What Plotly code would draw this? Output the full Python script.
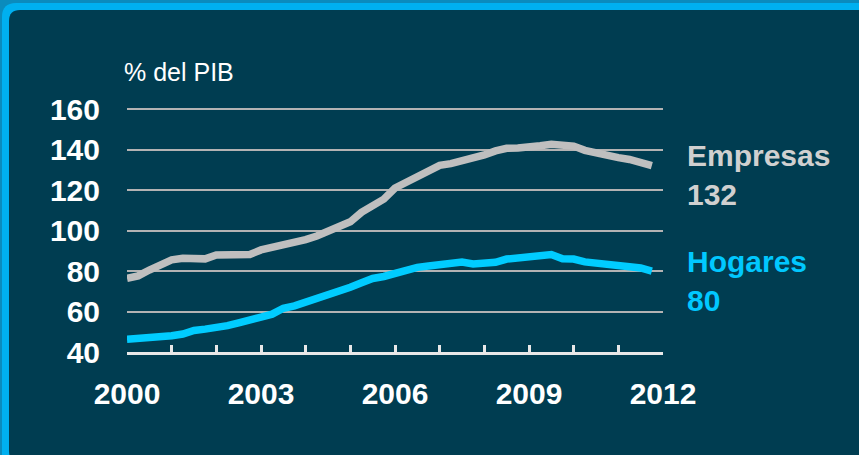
import plotly.graph_objects as go

# quarterly data, % of GDP
quarters = [y + q / 4 for y in range(2000, 2012) for q in range(4)]

empresas = [
    76.4, 77.6, 80.5, 83.5, 85.5, 86.3, 86.0, 86.0,
    87.9, 87.9, 88.0, 88.2, 90.4, 91.5, 93.3, 94.0,
    95.5, 97.3, 99.8, 101.3, 104.3, 109.0, 112.0, 115.5,
    121.0, 123.8, 127.6, 129.7, 132.2, 133.0, 134.3, 135.8,
    137.3, 139.3, 140.6, 140.8, 141.0, 141.9, 142.6, 142.3,
    141.7, 139.6, 138.2, 137.3, 136.0, 135.1, 133.7, 132.0,
]
hogares = [
    46.3, 46.5, 47.4, 47.6, 48.0, 48.9, 50.6, 51.3,
    51.9, 53.0, 54.4, 56.2, 57.2, 58.7, 61.6, 62.8,
    64.5, 66.2, 68.6, 70.2, 72.0, 74.2, 76.3, 77.3,
    78.9, 80.5, 81.8, 82.5, 83.0, 83.5, 84.4, 83.5,
    83.6, 84.3, 85.9, 86.6, 87.1, 87.1, 88.1, 86.0,
    85.9, 84.5, 84.1, 83.2, 82.8, 82.1, 81.5, 80.0,
]

year_ticks = [2000, 2003, 2006, 2009, 2012]
y_ticks = [40, 60, 80, 100, 120, 140, 160]

W, H = 859, 455
# plot area: x 127..663, y 107..352 (range top a touch above 160 so its gridline shows)
L, R, T, B = 127, 196, 107, 103
PW, PH = W - L - R, H - T - B

FONT = 'Arial, Liberation Sans, sans-serif'
BG = '#003d51'
GRAY = '#bfbfbf'
CYAN = '#00ccff'


def px(x, y):
    return (x - L) / PW, (H - B - y) / PH


def rounded_rect(x0, y0, x1, y1, r):
    def p(x, y):
        a, b = px(x, y)
        return f'{a:.5f},{b:.5f}'
    return (f'M {p(x0 + r, y0)} L {p(x1 - r, y0)} Q {p(x1, y0)} {p(x1, y0 + r)} '
            f'L {p(x1, y1 - r)} Q {p(x1, y1)} {p(x1 - r, y1)} '
            f'L {p(x0 + r, y1)} Q {p(x0, y1)} {p(x0, y1 - r)} '
            f'L {p(x0, y0 + r)} Q {p(x0, y0)} {p(x0 + r, y0)} Z')


fig = go.Figure()

fig.add_trace(go.Scatter(
    x=quarters, y=empresas, mode='lines',
    line=dict(color=GRAY, width=7.5), hoverinfo='skip'
))
fig.add_trace(go.Scatter(
    x=quarters, y=hogares, mode='lines',
    line=dict(color=CYAN, width=7.5), hoverinfo='skip'
))

fig.update_layout(
    width=W, height=H,
    margin=dict(l=L, r=R, t=T, b=B),
    paper_bgcolor='#0b8bbd',
    plot_bgcolor='rgba(0,0,0,0)',
    showlegend=False,
    font=dict(family=FONT, color='white'),
    shapes=[
        dict(type='path', xref='paper', yref='paper', layer='below',
             path=rounded_rect(2, 3, 880, 470, 14),
             fillcolor='#00b0f0', line=dict(width=0)),
        dict(type='path', xref='paper', yref='paper', layer='below',
             path=rounded_rect(9, 10, 880, 462, 11),
             fillcolor=BG, line=dict(width=0)),
    ],
    xaxis=dict(
        range=[2000, 2012],
        tickvals=year_ticks,
        ticktext=[str(v) for v in year_ticks],
        ticks='inside', ticklen=7, tickwidth=3, tickcolor='#e8e8e8',
        minor=dict(dtick=1, ticks='inside', ticklen=7, tickwidth=3,
                   tickcolor='#e8e8e8', showgrid=False),
        showline=True, linecolor='#e8e8e8', linewidth=3,
        showgrid=False, zeroline=False,
        tickfont=dict(family=FONT, size=30, color='white', weight='bold'),
        ticklabelstandoff=13,
    ),
    yaxis=dict(
        range=[40, 161],
        tickvals=y_ticks,
        showgrid=True, gridcolor='#b3b3b3', gridwidth=1.8,
        zeroline=False, showline=False, ticks='',
        tickfont=dict(family=FONT, size=30, color='white', weight='bold'),
        ticklabelstandoff=26,
    ),
    annotations=[
        dict(text='% del PIB', xref='paper', yref='paper',
             x=px(122, 0)[0], y=px(0, 72)[1], xanchor='left', yanchor='middle',
             showarrow=False, font=dict(family=FONT, size=25, color='white')),
        dict(text='Empresas<br>132', xref='paper', yref='paper',
             x=px(685, 0)[0], y=px(0, 175)[1], xanchor='left', yanchor='middle',
             align='left', showarrow=False,
             font=dict(family=FONT, size=30, color='#d0d0d0', weight='bold')),
        dict(text='Hogares<br>80', xref='paper', yref='paper',
             x=px(685, 0)[0], y=px(0, 281)[1], xanchor='left', yanchor='middle',
             align='left', showarrow=False,
             font=dict(family=FONT, size=30, color='#00c8ff', weight='bold')),
    ],
)

# the page's default body margin would push the figure 8px right and down
fig.write_html('out.html',
               config={'displayModeBar': False},
               post_script="document.body.style.margin='0';"
                           "document.body.style.overflow='hidden';")
